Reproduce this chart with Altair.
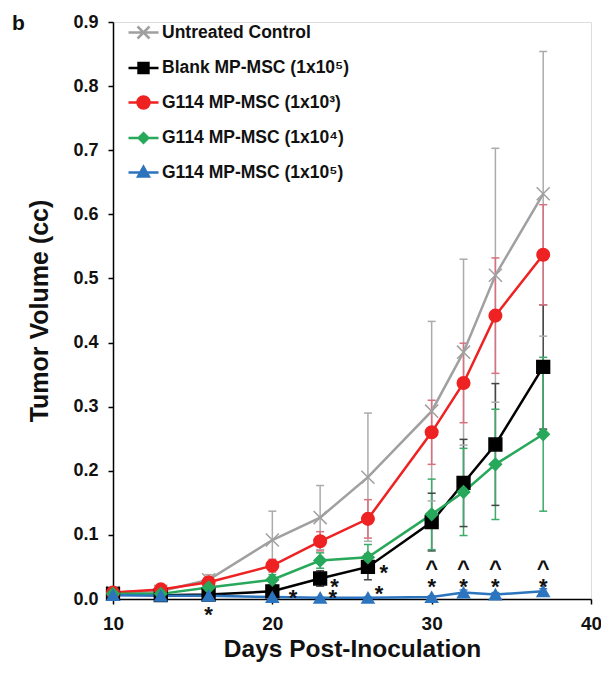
import altair as alt
import pandas as pd

FONT = "Liberation Sans"

days = [10, 13, 16, 20, 23, 26, 30, 32, 34, 37]
series_names = [
    "Untreated Control",
    "Blank MP-MSC (1x10⁵)",
    "G114 MP-MSC (1x10³)",
    "G114 MP-MSC (1x10⁴)",
    "G114 MP-MSC (1x10⁵)",
]
untreated = [0.010, 0.012, 0.030, 0.092, 0.127, 0.190, 0.293, 0.385, 0.505, 0.632]
untreated_err = [0.003, 0.004, 0.008, 0.045, 0.050, 0.100, 0.140, 0.145, 0.198, 0.222]
blank = [0.008, 0.006, 0.007, 0.012, 0.032, 0.050, 0.120, 0.181, 0.241, 0.362]
blank_err = [0.002, 0.002, 0.003, 0.005, 0.012, 0.020, 0.045, 0.068, 0.095, 0.097]
g114_e3 = [0.010, 0.015, 0.026, 0.052, 0.090, 0.125, 0.260, 0.337, 0.442, 0.537]
g114_e3_err = [0.003, 0.004, 0.006, 0.010, 0.015, 0.030, 0.050, 0.062, 0.090, 0.078]
g114_e4 = [0.008, 0.008, 0.018, 0.030, 0.060, 0.065, 0.132, 0.167, 0.210, 0.257]
g114_e4_err = [0.002, 0.003, 0.005, 0.008, 0.012, 0.020, 0.055, 0.068, 0.086, 0.120]
g114_e5 = [0.006, 0.005, 0.005, 0.003, 0.002, 0.002, 0.003, 0.010, 0.007, 0.012]
g114_e5_err = [0.002, 0.002, 0.002, 0.002, 0.001, 0.001, 0.002, 0.004, 0.003, 0.004]

line_colors = ["#a0a0a0", "#000000", "#ee2222", "#27a85a", "#2d74be"]
err_colors = ["#ababab", "#444444", "#d8707e", "#3daa6a", "#3a80c8"]
point_shapes = ["M-1,-1L1,1M-1,1L1,-1", "square", "circle", "diamond", "triangle-up"]
point_sizes = [170, 144, 196, 121, 150]
legend_shapes = [
    "M-1,0H1M-0.4,-0.4L0.4,0.4M-0.4,0.4L0.4,-0.4",
    "M-1,0H1M-0.33,-0.33H0.33V0.33H-0.33Z",
    "M-1,0H1M-0.4,0A0.4,0.4,0,1,0,0.4,0A0.4,0.4,0,1,0,-0.4,0Z",
    "M-1,0H1M0,-0.32L0.32,0L0,0.32L-0.32,0Z",
    "M-1,0H1M0,-0.38L0.36,0.26H-0.36Z",
]

x_ticks = [10, 20, 30, 40]
y_ticks = [0.0, 0.1, 0.2, 0.3, 0.4, 0.5, 0.6, 0.7, 0.8, 0.9]

# significance marks: (day, y-position, symbol)
mark_days = [16, 21.3, 23.9, 23.8, 27.0, 26.7, 30, 30, 32, 32, 34, 34, 37, 37]
mark_vals = [-0.017, 0.009, 0.027, 0.009, 0.048, 0.015, 0.027, 0.054, 0.027, 0.054, 0.027, 0.054, 0.027, 0.054]
mark_text = ["*", "*", "*", "*", "*", "*", "*", "^", "*", "^", "*", "^", "*", "^"]

values = [untreated, blank, g114_e3, g114_e4, g114_e5]
errors = [untreated_err, blank_err, g114_e3_err, g114_e4_err, g114_e5_err]
rows = []
for name, vals, errs in zip(series_names, values, errors):
    for d, v, e in zip(days, vals, errs):
        rows.append({"series": name, "day": d, "value": v, "lo": max(v - e, 0), "hi": v + e})
df = pd.DataFrame(rows)
leg_df = pd.DataFrame({"series": series_names, "day": [10] * 5, "value": [-1.0] * 5})
ann_df = pd.DataFrame({"day": mark_days, "value": mark_vals, "txt": mark_text})

xscale = alt.Scale(domain=[10, 40], nice=False, zero=False)
yscale = alt.Scale(domain=[0, 0.9], nice=False, zero=False)
xaxis = alt.Axis(values=x_ticks, title="Days Post-Inoculation", grid=False,
                 domainColor="#000", domainWidth=1.5, tickColor="#000", tickWidth=1.5, tickSize=5,
                 labelFont=FONT, labelFontSize=19, labelFontWeight="bold", labelColor="#111",
                 labelPadding=10, labelFlush=False,
                 titleFont=FONT, titleFontSize=24.5, titleFontWeight="bold", titleColor="#111",
                 titlePadding=4)
yaxis = alt.Axis(values=y_ticks, format=".1f", title="Tumor Volume (cc)", grid=False,
                 domainColor="#000", domainWidth=1.5, tickColor="#000", tickWidth=1.5, tickSize=5,
                 labelFont=FONT, labelFontSize=18, labelFontWeight="bold", labelColor="#111",
                 labelPadding=10, labelFlush=False,
                 titleFont=FONT, titleFontSize=25, titleFontWeight="bold", titleColor="#111",
                 titlePadding=20)


def X():
    return alt.X("day:Q", scale=xscale, axis=xaxis)


def Y(field):
    return alt.Y(f"{field}:Q", scale=yscale, axis=yaxis)


err_scale = alt.Scale(domain=series_names, range=err_colors)
line_scale = alt.Scale(domain=series_names, range=line_colors)

base = alt.Chart(df)

err_rule = base.mark_rule(strokeWidth=1.5).encode(
    x=X(), y=Y("lo"), y2="hi:Q",
    color=alt.Color("series:N", scale=err_scale, legend=None))
cap_hi = base.mark_point(shape="M-1,0L1,0", size=64, strokeWidth=1.5, opacity=1, filled=False).encode(
    x=X(), y=Y("hi"), color=alt.Color("series:N", scale=err_scale, legend=None))
cap_lo = base.mark_point(shape="M-1,0L1,0", size=64, strokeWidth=1.5, opacity=1, filled=False).encode(
    x=X(), y=Y("lo"), color=alt.Color("series:N", scale=err_scale, legend=None))

lines = base.mark_line(strokeWidth=2.5).encode(
    x=X(), y=Y("value"),
    color=alt.Color("series:N", scale=line_scale, legend=None),
    order="day:Q")

points = base.mark_point(filled=True, opacity=1, strokeWidth=1.5).encode(
    x=X(), y=Y("value"),
    fill=alt.Fill("series:N", scale=alt.Scale(domain=series_names, range=line_colors), legend=None),
    stroke=alt.Stroke("series:N", scale=alt.Scale(domain=series_names, range=line_colors), legend=None),
    shape=alt.Shape("series:N", scale=alt.Scale(domain=series_names, range=point_shapes), legend=None),
    size=alt.Size("series:N", scale=alt.Scale(domain=series_names, range=point_sizes), legend=None))

leg = alt.Legend(title=None, orient="none", legendX=14, legendY=-6, padding=0,
                 labelFont=FONT, labelFontSize=17.5, labelFontWeight="bold", labelColor="#111",
                 labelLimit=400, labelOffset=2, symbolSize=900, symbolStrokeWidth=2.5,
                 rowPadding=7.5)
legend_layer = alt.Chart(leg_df).mark_point(filled=True, opacity=1, strokeWidth=2.5, size=900, clip=True).encode(
    x=X(), y=Y("value"),
    fill=alt.Fill("series:N", scale=alt.Scale(domain=series_names, range=line_colors), legend=leg, sort=series_names),
    stroke=alt.Stroke("series:N", scale=alt.Scale(domain=series_names, range=line_colors), legend=leg, sort=series_names),
    shape=alt.Shape("series:N", scale=alt.Scale(domain=series_names, range=legend_shapes), legend=leg, sort=series_names))

ann = alt.Chart(ann_df).mark_text(font=FONT, fontSize=22, fontWeight="bold", color="#111",
                                  baseline="alphabetic", align="center", dy=12).encode(
    x=X(), y=Y("value"), text="txt:N")

chart = alt.layer(err_rule, cap_hi, cap_lo, lines, points, legend_layer, ann).resolve_scale(
    color="independent", fill="independent", stroke="independent", shape="independent", size="independent"
).properties(
    width=478, height=577,
    autosize=alt.AutoSizeParams(type="none"),
    padding={"left": 105, "top": 14, "right": 10, "bottom": 66},
    title=alt.TitleParams(text="b", anchor="start", frame="group", dx=-101, dy=21,
                          fontSize=21, fontWeight="bold", font=FONT, color="#111", offset=0),
).configure_view(stroke=None).configure(background="white")

chart.save("out.html", embed_options={"renderer": "svg", "actions": False})
